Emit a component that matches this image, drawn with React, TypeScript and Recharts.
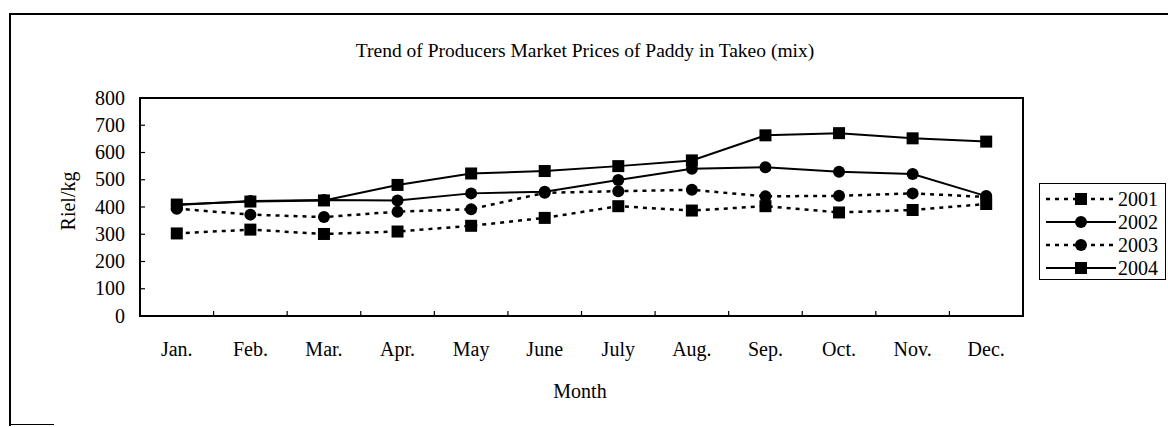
import React from 'react';
import { LineChart, Line, XAxis, YAxis, ReferenceArea } from 'recharts';

const months = ['Jan.', 'Feb.', 'Mar.', 'Apr.', 'May', 'June', 'July', 'Aug.', 'Sep.', 'Oct.', 'Nov.', 'Dec.'];
const y2001 = [303, 317, 301, 310, 331, 360, 403, 387, 403, 380, 389, 411];
const y2002 = [407, 422, 426, 424, 450, 456, 499, 540, 546, 529, 521, 440];
const y2003 = [394, 372, 363, 383, 392, 452, 458, 463, 439, 441, 450, 437];
const y2004 = [409, 420, 424, 481, 523, 532, 550, 571, 663, 671, 652, 640];
const yTicks = [0, 100, 200, 300, 400, 500, 600, 700, 800];
const boundaryTicks = [1, 2, 3, 4, 5, 6, 7, 8, 9, 10, 11];

const series = [
  { key: 'a2001', name: '2001', values: y2001, dashed: true, marker: 'square' },
  { key: 'a2002', name: '2002', values: y2002, dashed: false, marker: 'circle' },
  { key: 'a2003', name: '2003', values: y2003, dashed: true, marker: 'circle' },
  { key: 'a2004', name: '2004', values: y2004, dashed: false, marker: 'square' },
];

const data = months.map((m, i) => {
  const row: any = { month: m };
  series.forEach((s) => {
    row[s.key] = s.values[i];
  });
  return row;
});

const FONT = '"Liberation Serif", "Times New Roman", serif';
const DASH = '4 5';

const makeDot = (marker: string) => (props: any) => {
  const { cx, cy, index } = props;
  if (cx == null || cy == null) return <g key={`d${index}`} />;
  if (marker === 'square') {
    return <rect key={`d${index}`} x={cx - 6} y={cy - 6} width={12} height={12} fill="#000" />;
  }
  return <circle key={`d${index}`} cx={cx} cy={cy} r={6} fill="#000" />;
};

const BoundaryTick = (props: any) => {
  const { x, y } = props;
  return <line x1={x} y1={y} x2={x} y2={y - 5} stroke="#000" strokeWidth={1.2} />;
};

const YTick = (props: any) => {
  const { x, y, payload } = props;
  return (
    <g>
      <line x1={x} y1={y} x2={x + 5} y2={y} stroke="#000" strokeWidth={1.2} />
      <text x={x - 15} y={y} dy="0.33em" textAnchor="end" fill="#000" fontFamily={FONT} fontSize={20}>
        {payload.value}
      </text>
    </g>
  );
};

const LegendBox = () => (
  <div
    style={{
      position: 'absolute',
      left: 1039,
      top: 183,
      width: 127,
      height: 97,
      border: '1px solid #000',
      boxSizing: 'border-box',
      fontFamily: FONT,
      fontSize: 20,
      color: '#000',
      paddingTop: 3,
    }}
  >
    {series.map((s) => (
      <div key={s.key} style={{ display: 'flex', alignItems: 'center', height: 23 }}>
        <svg width={74} height={20} style={{ marginLeft: 4 }}>
          <line
            x1={2}
            y1={10}
            x2={72}
            y2={10}
            stroke="#000"
            strokeWidth={s.dashed ? 2.5 : 2}
            strokeDasharray={s.dashed ? DASH : undefined}
          />
          {s.marker === 'square' ? (
            <rect x={31} y={4} width={12} height={12} fill="#000" />
          ) : (
            <circle cx={37} cy={10} r={6} fill="#000" />
          )}
        </svg>
        <span style={{ lineHeight: '20px' }}>{s.name}</span>
      </div>
    ))}
  </div>
);

export default function App() {
  return (
    <div style={{ position: 'absolute', left: 0, top: 0, width: 1168, height: 427, background: '#fff' }}>
      <div style={{ position: 'absolute', left: 9, top: 13, width: 1159, height: 0, borderTop: '2px solid #000' }} />
      <div style={{ position: 'absolute', left: 9, top: 13, width: 0, height: 413, borderLeft: '2px solid #000' }} />
      <div style={{ position: 'absolute', left: 9, top: 424, width: 45, height: 0, borderTop: '1px solid #000' }} />

      <div
        style={{
          position: 'absolute',
          left: 0,
          top: 41,
          width: 1170,
          textAlign: 'center',
          fontFamily: FONT,
          fontSize: 19.5,
          lineHeight: '19px',
          color: '#000',
        }}
      >
        Trend of Producers Market Prices of Paddy in Takeo (mix)
      </div>

      <div
        style={{
          position: 'absolute',
          left: 68,
          top: 201,
          transform: 'translate(-50%, -50%) rotate(-90deg)',
          fontFamily: FONT,
          fontSize: 20,
          lineHeight: '20px',
          whiteSpace: 'nowrap',
          color: '#000',
        }}
      >
        Riel/kg
      </div>

      <div
        style={{
          position: 'absolute',
          left: 580,
          top: 381,
          transform: 'translateX(-50%)',
          fontFamily: FONT,
          fontSize: 20,
          lineHeight: '20px',
          color: '#000',
        }}
      >
        Month
      </div>

      <div style={{ position: 'absolute', left: 0, top: 0 }}>
        <LineChart
          width={1168}
          height={427}
          data={data}
          margin={{ top: 98, right: 145, bottom: 80, left: 80 }}
        >
          <XAxis
            xAxisId="a"
            type="number"
            dataKey="none"
            domain={[0, 12]}
            ticks={boundaryTicks}
            allowDataOverflow
            interval={0}
            height={1}
            tick={<BoundaryTick />}
            axisLine={false}
            tickLine={false}
            tickSize={0}
            tickMargin={0}
          />
          <XAxis
            xAxisId="b"
            dataKey="month"
            scale="band"
            height={30}
            tickLine={false}
            axisLine={false}
            tickSize={0}
            tickMargin={25}
            interval={0}
            tick={{ fill: '#000', fontFamily: FONT, fontSize: 20 }}
          />
          <YAxis
            domain={[0, 800]}
            ticks={yTicks}
            width={60}
            interval={0}
            axisLine={{ stroke: '#000', strokeWidth: 2 }}
            tickLine={false}
            tickSize={0}
            tickMargin={0}
            tick={<YTick />}
          />
          <ReferenceArea
            xAxisId="a"
            x1={0}
            x2={12}
            y1={0}
            y2={800}
            fill="none"
            fillOpacity={0}
            stroke="#000"
            strokeWidth={2}
            ifOverflow="visible"
          />
          {series.map((s) => (
            <Line
              key={s.key}
              xAxisId="b"
              dataKey={s.key}
              name={s.name}
              type="linear"
              stroke="#000"
              strokeWidth={s.dashed ? 2.5 : 2}
              strokeDasharray={s.dashed ? DASH : undefined}
              dot={makeDot(s.marker)}
              activeDot={false}
              isAnimationActive={false}
            />
          ))}
        </LineChart>
      </div>

      <LegendBox />
    </div>
  );
}
